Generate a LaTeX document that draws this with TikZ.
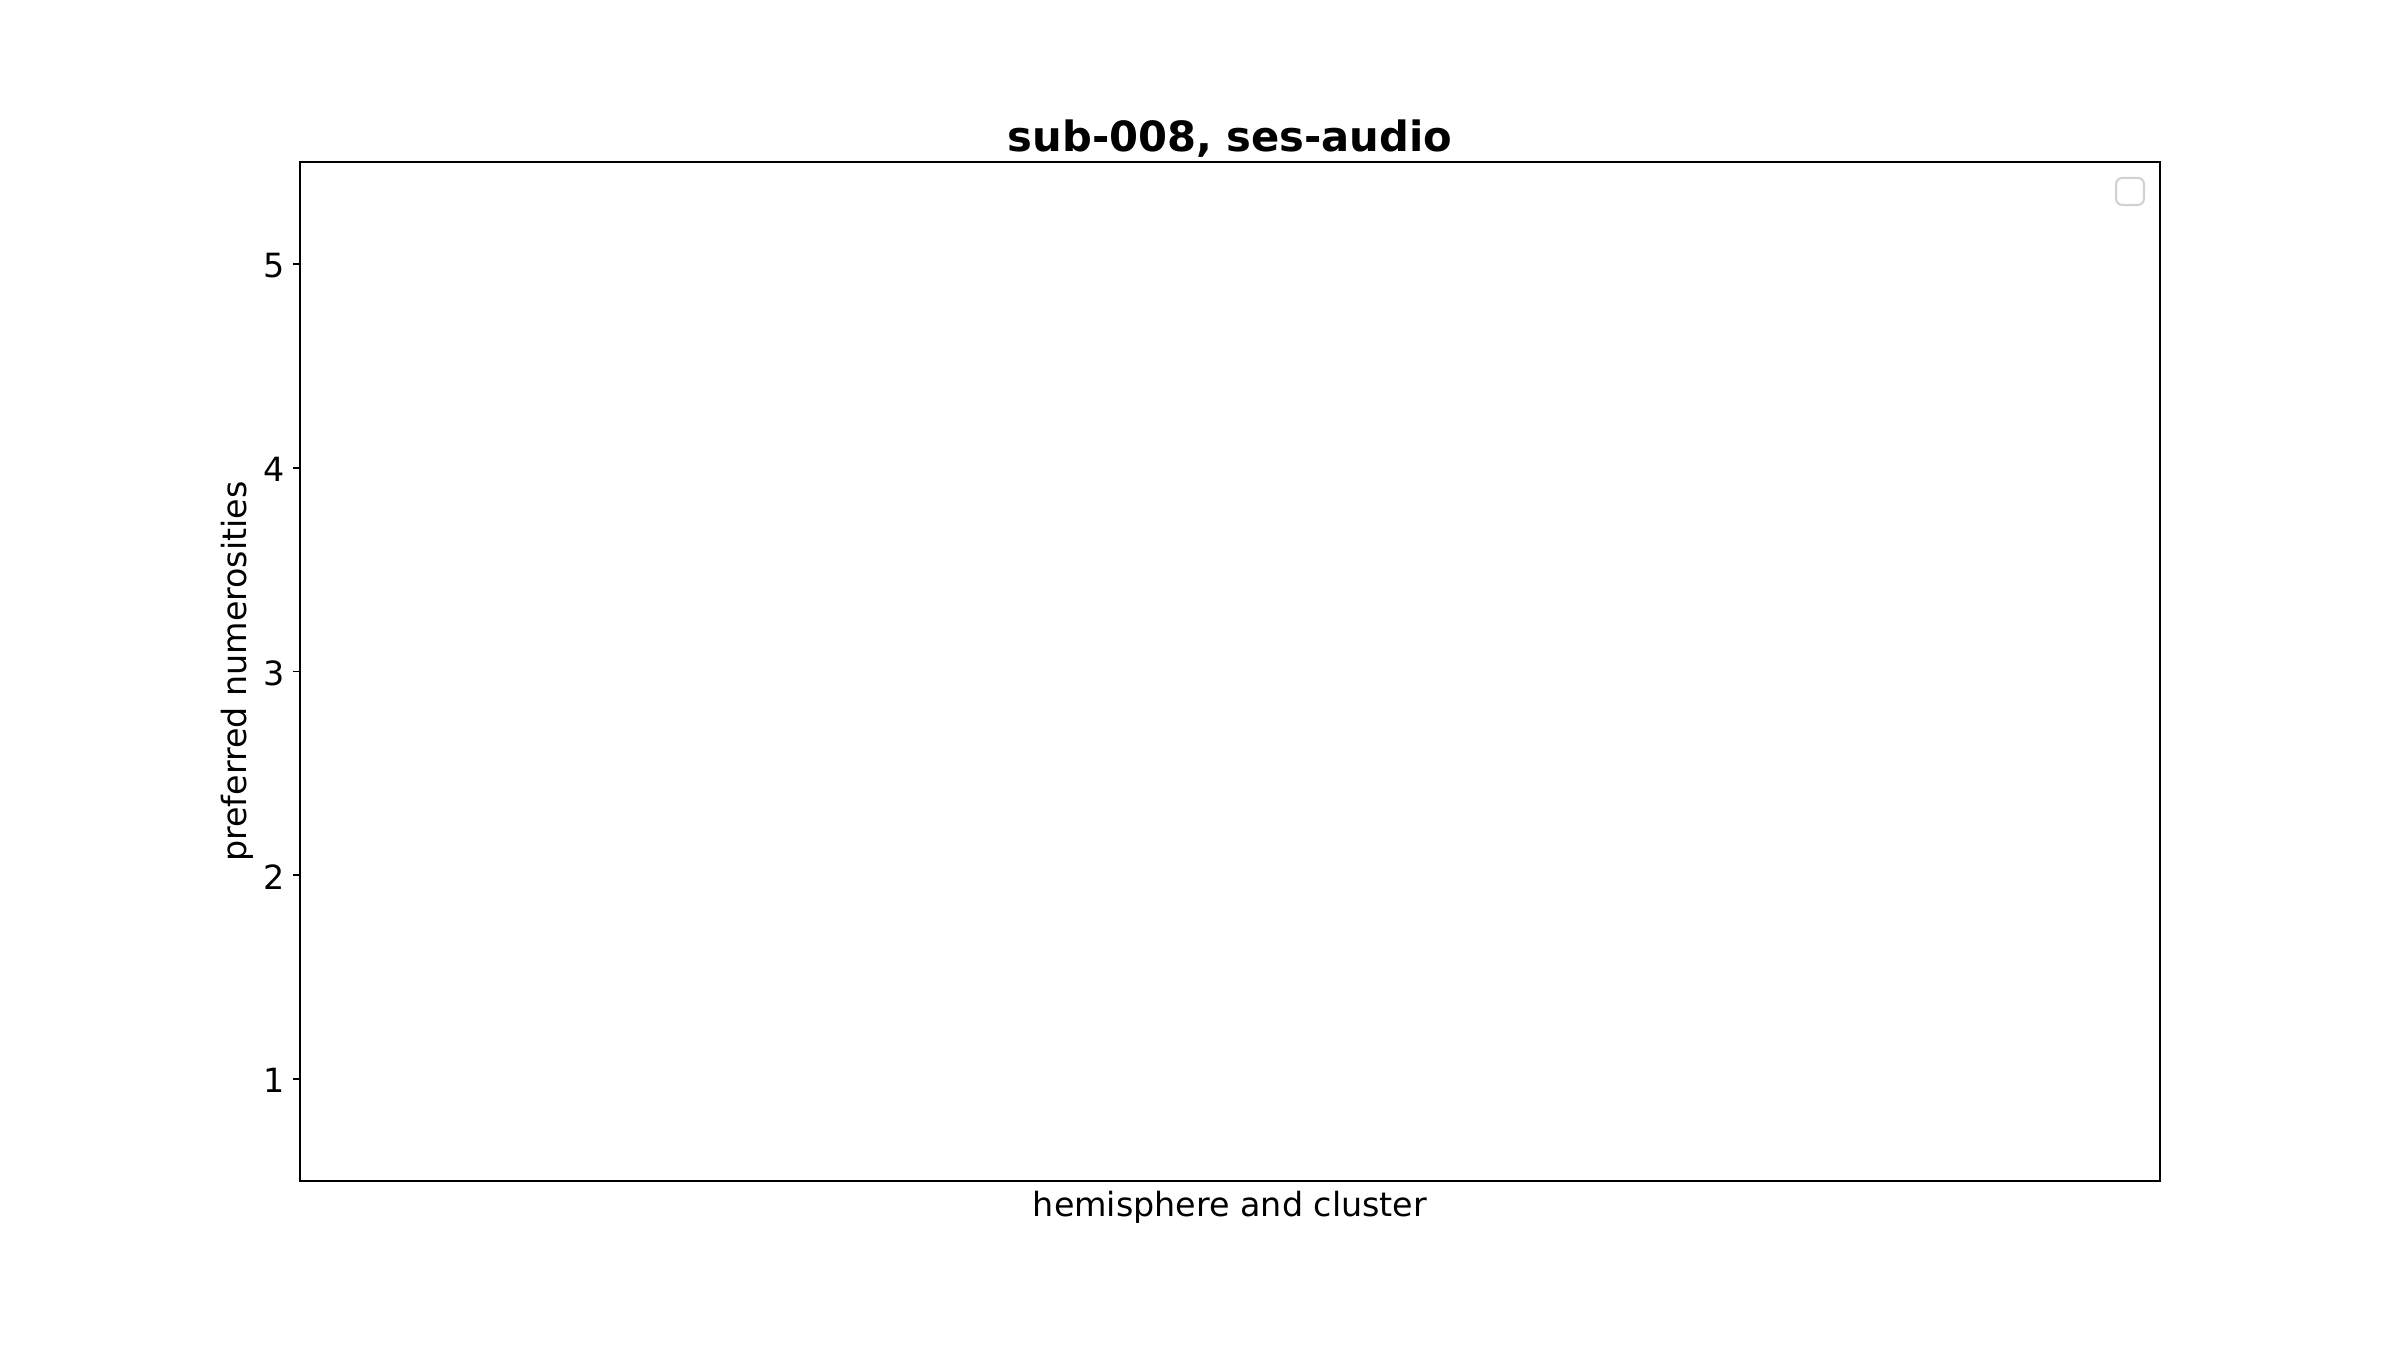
\documentclass[tikz,border=0pt]{standalone}
\usepackage{fontspec}
\setmainfont{DejaVu Sans}
\usepackage{tikz}
\usetikzlibrary{calc}
\tikzset{
    axis-frame/.style = {draw=black, line width=0.8pt},
    axis-tick/.style = {draw=black, line width=0.8pt},
    tick-label/.style = {anchor=east, inner sep=0pt, yshift=-0.7pt, font=\fontsize{16}{19}\selectfont},
    axis-label/.style = {inner sep=0pt, font=\fontsize{16}{19}\selectfont},
    plot-title/.style = {anchor=base, inner sep=0pt, font=\fontsize{20}{24}\selectfont\bfseries},
    legend-box/.style = {draw=black!18, line width=1pt, rounded corners=3pt, inner sep=0pt, minimum width=13.4pt, minimum height=13pt},
}

\begin{document}
\begin{tikzpicture}[x=1pt,y=1pt]
\useasboundingbox (0,0) rectangle (1152,648);
\coordinate (frame-sw) at (144,81.1);
\coordinate (frame-ne) at (1036.8,570.24);
\draw[axis-frame] (frame-sw) rectangle (frame-ne);
\foreach \k in {1,...,5} {
    \coordinate (tick-\k) at (144,{81.1+(\k-0.5)*97.83});
    \coordinate (tick-end-\k) at ($(tick-\k)+(-3.5,0)$);
    \draw[axis-tick] (tick-\k) -- (tick-end-\k);
    \node[tick-label, xshift=-3.5pt] (tick-label-\k) at (tick-end-\k) {\k};
}
\node[plot-title] (title) at (590.4,575.5) {sub-008, ses-audio};
\node[axis-label, anchor=north] (xlabel) at (590.4,76.3) {hemisphere and cluster};
\node[axis-label, anchor=south, rotate=90] (ylabel) at (122,325.67) {preferred numerosities};
\node[legend-box] (legend) at (1022.4,556.1) {};
\end{tikzpicture}
\end{document}
